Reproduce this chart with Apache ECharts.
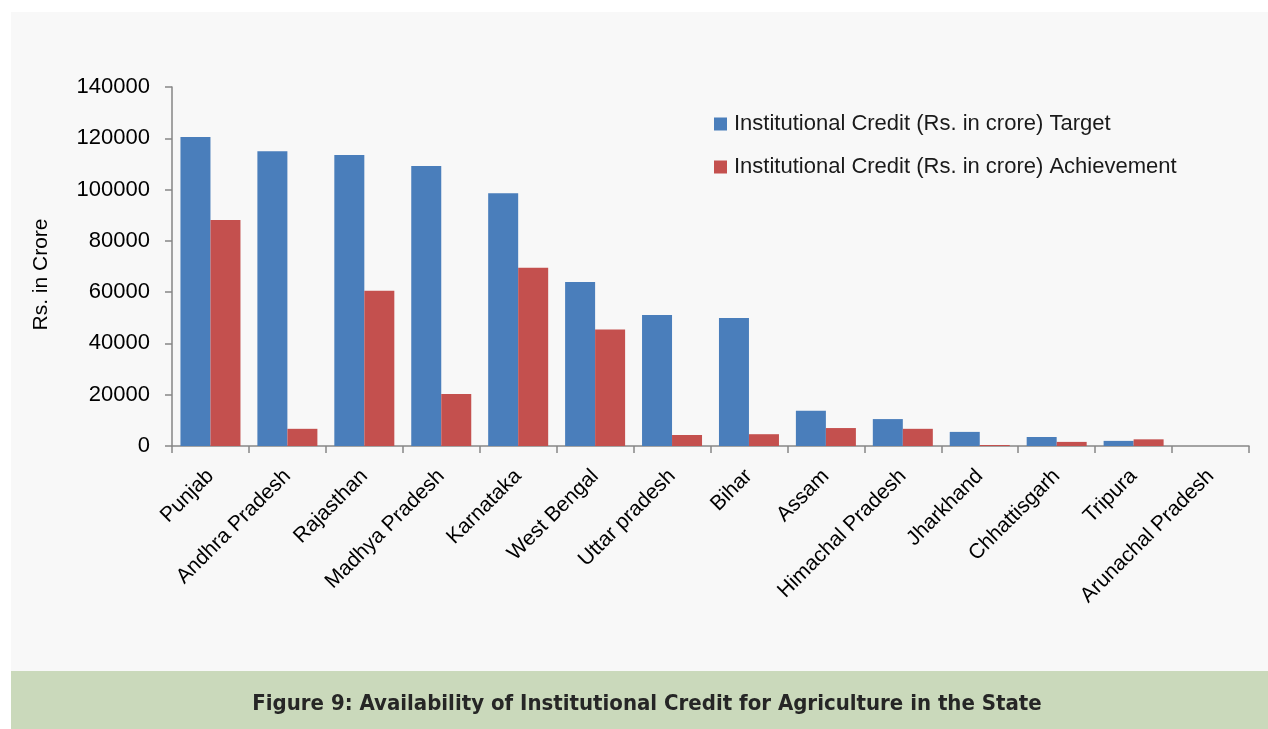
<!DOCTYPE html>
<html>
<head>
<meta charset="utf-8">
<script src="https://cdn.jsdelivr.net/npm/echarts@6/dist/echarts.min.js"></script>
<style>
  html, body { margin: 0; padding: 0; background: #ffffff; }
  #chart { width: 1268px; height: 729px; }
</style>
</head>
<body>
<div id="chart"></div>
<script>
// States, ordered by credit target
const states = [
  'Punjab', 'Andhra Pradesh', 'Rajasthan', 'Madhya Pradesh', 'Karnataka',
  'West Bengal', 'Uttar pradesh', 'Bihar', 'Assam', 'Himachal Pradesh',
  'Jharkhand', 'Chhattisgarh', 'Tripura', 'Arunachal Pradesh'
];

// Institutional credit, Rs. in crore
const targetValues = [
  120500, 114900, 113500, 109200, 98600,
  64000, 51100, 49900, 13700, 10500,
  5500, 3500, 2000, 0
];
const achievementValues = [
  88100, 6700, 60500, 20300, 69500,
  45400, 4300, 4600, 7000, 6700,
  400, 1600, 2600, 0
];

const seriesNames = [
  'Institutional Credit (Rs. in crore) Target',
  'Institutional Credit (Rs. in crore) Achievement'
];

const yTicks = { min: 0, max: 140000, interval: 20000 };
const yAxisTitle = 'Rs. in Crore';
const caption = 'Figure 9: Availability of Institutional Credit for Agriculture in the State';

const FONT = '"Liberation Sans", Arial, sans-serif';
const AXIS_GREY = '#868686';

const chart = echarts.init(document.getElementById('chart'), null, { renderer: 'canvas' });

chart.setOption({
  backgroundColor: '#ffffff',
  animation: false,
  graphic: [
    {
      type: 'rect', z: -10, silent: true,
      shape: { x: 11, y: 12, width: 1257, height: 659 },
      style: { fill: '#f8f8f8' }
    },
    {
      type: 'rect', z: -10, silent: true,
      shape: { x: 11, y: 671, width: 1257, height: 58 },
      style: { fill: '#cad9bb' }
    },
    {
      type: 'text', z: 10, silent: true,
      x: 647, y: 704,
      style: {
        text: caption,
        fill: '#262626',
        font: 'bold 22px "DejaVu Sans Condensed", "Liberation Sans Narrow", "Liberation Sans", sans-serif',
        align: 'center',
        verticalAlign: 'middle'
      }
    }
  ],
  legend: {
    orient: 'vertical',
    left: 714,
    top: 113,
    padding: 0,
    icon: 'rect',
    itemWidth: 13,
    itemHeight: 13,
    itemGap: 21,
    textStyle: { fontFamily: FONT, fontSize: 22, color: '#1a1a1a', padding: [0, 0, 0, 2] },
    data: seriesNames
  },
  grid: { left: 172, right: 19, top: 87, bottom: 283, containLabel: false },
  xAxis: {
    type: 'category',
    data: states,
    boundaryGap: true,
    axisLine: { lineStyle: { color: AXIS_GREY, width: 1.5 } },
    axisTick: { show: true, length: 7, inside: false, lineStyle: { color: AXIS_GREY, width: 1.5 } },
    axisLabel: {
      interval: 0,
      rotate: 45,
      margin: 27,
      fontFamily: FONT,
      fontSize: 21,
      color: '#000000'
    },
    splitLine: { show: false }
  },
  yAxis: {
    type: 'value',
    min: yTicks.min,
    max: yTicks.max,
    interval: yTicks.interval,
    name: yAxisTitle,
    nameLocation: 'middle',
    nameGap: 120,
    nameRotate: 90,
    nameTextStyle: { fontFamily: FONT, fontSize: 21, color: '#000000', padding: [0, 16, 0, 0] },
    axisLine: { show: true, lineStyle: { color: AXIS_GREY, width: 1.5 } },
    axisTick: { show: true, length: 7, lineStyle: { color: AXIS_GREY, width: 1.5 } },
    axisLabel: {
      margin: 22, fontFamily: FONT, fontSize: 22, color: '#000000',
      formatter: (v) => String(v)
    },
    splitLine: { show: false }
  },
  series: [
    {
      name: seriesNames[0],
      type: 'bar',
      data: targetValues,
      barGap: '0%',
      barCategoryGap: '22%',
      itemStyle: { color: '#4a7ebb' }
    },
    {
      name: seriesNames[1],
      type: 'bar',
      data: achievementValues,
      barGap: '0%',
      barCategoryGap: '22%',
      itemStyle: { color: '#c4504e' }
    }
  ]
});
</script>
</body>
</html>
